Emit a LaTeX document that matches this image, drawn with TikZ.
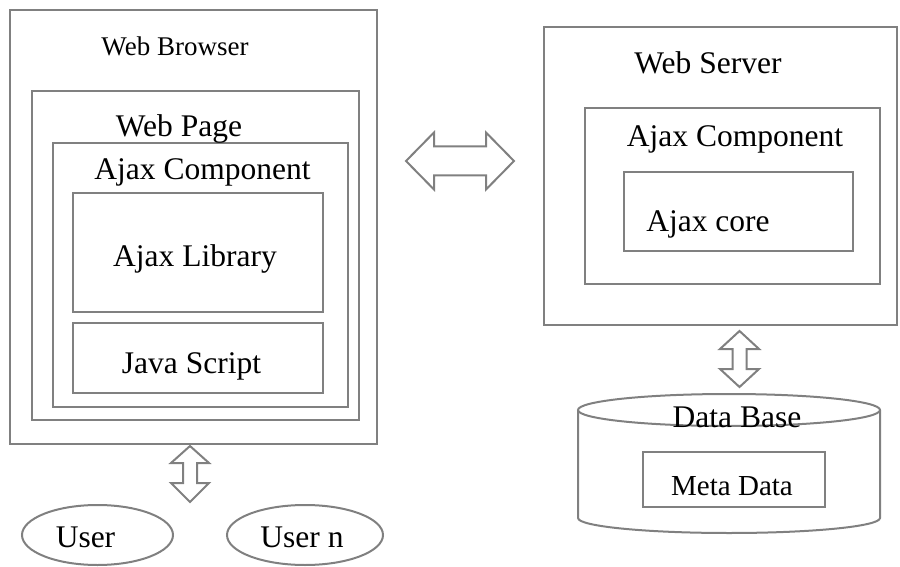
\documentclass[tikz,border=0pt]{standalone}
\usepackage{fontspec}
\setmainfont{Liberation Serif}
\usetikzlibrary{positioning,calc,fit,shapes.geometric}

\tikzset{
  box/.style={draw=gray, line width=1pt, inner sep=0pt},
  lbl/.style={anchor=base, inner sep=0pt, font=\fontsize{15.75}{18}\selectfont},
  blockarrow/.style={draw=gray, line width=1pt, line join=miter},
}

\begin{document}
\begin{tikzpicture}[
        x = 0.5pt,
        y = -0.5pt
        ]
    \useasboundingbox (0,0) rectangle (900,567);

    % client side
    \node[box, fit={(10,10) (377,444)}] (browser) {};
    \node[box, fit={(32,91) (359,420)}] (page) {};
    \node[box, fit={(53,143) (348,407)}] (ajaxc) {};
    \node[box, fit={(73,193) (323,312)}] (library) {};
    \node[box, fit={(73,323) (323,393)}] (jscript) {};
    \node[lbl, font=\fontsize{13.5}{16}\selectfont] (browsertxt) at (175,56) {Web Browser};
    \node[lbl] (pagetxt) at (179,137) {Web Page};
    \node[lbl] (ajaxctxt) at (202.5,180) {Ajax Component};
    \node[lbl] (librarytxt) at (195,266) {Ajax Library};
    \node[lbl] (jscripttxt) at (191.5,373) {Java Script};

    % users
    \node[box, ellipse, minimum width=75.5pt, minimum height=30pt] (user) at (97.5,535) {};
    \node[box, ellipse, minimum width=78pt, minimum height=30pt] (usern) at (305,535) {};
    \node[lbl] (usertxt) at (85.5,547) {User};
    \node[lbl] (userntxt) at (302,547) {User n};

    % server side
    \node[box, fit={(544,27) (897,325)}] (server) {};
    \node[box, fit={(585,108) (880,284)}] (sajax) {};
    \node[box, fit={(624,172) (853,251)}] (core) {};
    \node[lbl] (servertxt) at (708,74) {Web Server};
    \node[lbl] (sajaxtxt) at (735,147) {Ajax Component};
    \node[lbl] (coretxt) at (708,231) {Ajax core};

    % data base
    \draw[box] (578,410) -- (578,518)
        arc[start angle=180, end angle=360, x radius=75.5pt, y radius=7.5pt] -- (880,410);
    \draw[box] (729,410) ellipse[x radius=75.5pt, y radius=8pt];
    \node[box, fit={(643,452) (825,507)}] (meta) {};
    \node[lbl] (dbtxt) at (737,427) {Data Base};
    \node[lbl, font=\fontsize{14.5}{17}\selectfont] (metatxt) at (732,495) {Meta Data};

    % browser <-> server
    \coordinate (hl) at (406,161);
    \coordinate (hr) at (514,161);
    \draw[blockarrow] (hl) -- ($(hl)+(28,-28.5)$) -- ($(hl)+(28,-14.5)$)
        -- ($(hr)+(-28,-14.5)$) -- ($(hr)+(-28,-28.5)$) -- (hr)
        -- ($(hr)+(-28,28.5)$) -- ($(hr)+(-28,14.5)$)
        -- ($(hl)+(28,14.5)$) -- ($(hl)+(28,28.5)$) -- cycle;

    % browser <-> users
    \coordinate (ut) at (190,446);
    \coordinate (ub) at (190,502);
    \draw[blockarrow] (ut) -- ($(ut)+(19,17)$) -- ($(ut)+(7,17)$)
        -- ($(ub)+(7,-19)$) -- ($(ub)+(19,-19)$) -- (ub)
        -- ($(ub)+(-19,-19)$) -- ($(ub)+(-7,-19)$)
        -- ($(ut)+(-7,17)$) -- ($(ut)+(-19,17)$) -- cycle;

    % server <-> data base
    \coordinate (st) at (739.5,331);
    \coordinate (sb) at (739.5,387);
    \draw[blockarrow] (st) -- ($(st)+(19.5,18)$) -- ($(st)+(7,18)$)
        -- ($(sb)+(7,-18)$) -- ($(sb)+(19.5,-18)$) -- (sb)
        -- ($(sb)+(-19.5,-18)$) -- ($(sb)+(-7,-18)$)
        -- ($(st)+(-7,18)$) -- ($(st)+(-19.5,18)$) -- cycle;
\end{tikzpicture}
\end{document}
